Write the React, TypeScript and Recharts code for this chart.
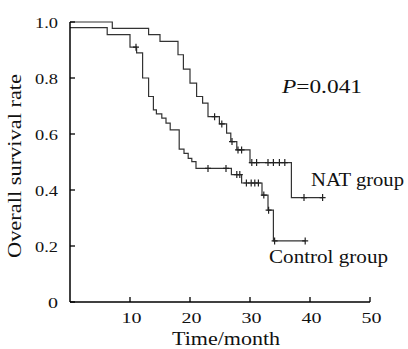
import React from "react"
import { ComposedChart, Line, Scatter, XAxis, YAxis } from "recharts"

// Kaplan-Meier steps (time in months, survival rate)
const natTimes = [0, 7.05, 13.1, 15, 18, 18.9, 20, 21.1, 22.1, 23, 24.9, 26.1, 26.8, 27.8, 30, 36.9, 42.1]
const natSurv = [1.0, 0.977, 0.955, 0.931, 0.883, 0.832, 0.782, 0.734, 0.71, 0.662, 0.636, 0.603, 0.573, 0.543, 0.498, 0.373, 0.373]
const natCensorTimes = [24.1, 25.3, 27.0, 28.0, 28.6, 30.3, 31.1, 33.0, 33.9, 34.9, 35.8, 39.0, 42.1]
const natCensorSurv = [0.662, 0.636, 0.573, 0.543, 0.543, 0.498, 0.498, 0.498, 0.498, 0.498, 0.498, 0.373, 0.373]

const ctrlTimes = [0, 6.2, 10, 11.1, 12.1, 13.1, 13.9, 14.4, 15.3, 16, 16.7, 18.2, 19, 19.7, 20.3, 21, 26.9, 28.6, 32, 33, 33.9, 39.2]
const ctrlSurv = [0.98, 0.955, 0.91, 0.89, 0.8, 0.734, 0.686, 0.672, 0.657, 0.639, 0.615, 0.546, 0.531, 0.513, 0.501, 0.477, 0.455, 0.425, 0.382, 0.328, 0.218, 0.218]
const ctrlCensorTimes = [11.0, 23.0, 26.0, 27.8, 28.3, 29.4, 30.2, 30.8, 31.4, 32.3, 33.1, 34.1, 39.2]
const ctrlCensorSurv = [0.91, 0.477, 0.477, 0.455, 0.455, 0.425, 0.425, 0.425, 0.425, 0.382, 0.328, 0.218, 0.218]

const xTicks = [10, 20, 30, 40, 50]
const yTicks = [0, 0.2, 0.4, 0.6, 0.8, 1.0]

const toPoints = (ts: number[], ss: number[]) => ts.map((t, i) => ({ t, s: ss[i] }))

const natLine = toPoints(natTimes, natSurv)
const ctrlLine = toPoints(ctrlTimes, ctrlSurv)
const natCensor = toPoints(natCensorTimes, natCensorSurv)
const ctrlCensor = toPoints(ctrlCensorTimes, ctrlCensorSurv)

// the figure's Times glyphs are stretched sideways, so text is widened with textLength
const FONT = "'Liberation Serif', 'Times New Roman', serif"

const XTick = (props: any) => {
  const { x, y, payload } = props
  return (
    <g>
      <line x1={x} y1={y} x2={x} y2={y - 5} stroke="#000" strokeWidth={1.3} />
      <text
        x={x + 1.5}
        y={y + 20.5}
        textAnchor="middle"
        fontSize={15.5}
        fontFamily={FONT}
        fill="#111"
        textLength={20}
        lengthAdjust="spacingAndGlyphs"
      >
        {payload.value}
      </text>
    </g>
  )
}

const YTick = (props: any) => {
  const { x, y, payload } = props
  const v = payload.value === 0 ? "0" : Number(payload.value).toFixed(1)
  return (
    <g>
      <line x1={x} y1={y} x2={x + 5} y2={y} stroke="#000" strokeWidth={1.3} />
      <text
        x={x - 12}
        y={y + 5.5}
        textAnchor="end"
        fontSize={15.5}
        fontFamily={FONT}
        fill="#111"
        textLength={v.length === 1 ? 10 : 23}
        lengthAdjust="spacingAndGlyphs"
      >
        {v}
      </text>
    </g>
  )
}

const CensorMark = (props: any) => {
  const { cx, cy } = props
  return (
    <path
      d={`M${cx},${cy - 3.5}V${cy + 3.5}M${cx - 3},${cy}H${cx + 3}`}
      stroke="#222"
      strokeWidth={1.2}
      fill="none"
    />
  )
}

export default function App() {
  return (
    <div style={{ position: "absolute", left: 0, top: 0, width: 408, height: 349, background: "#fff" }}>
      <ComposedChart width={408} height={349} margin={{ top: 22, right: 38, bottom: 0, left: 0 }}>
        <XAxis
          dataKey="t"
          type="number"
          domain={[0, 50]}
          ticks={xTicks}
          height={47}
          tickSize={0}
          tickMargin={0}
          tickLine={false}
          tick={<XTick />}
          axisLine={{ stroke: "#000", strokeWidth: 1.5 }}
        />
        <YAxis
          type="number"
          domain={[0, 1]}
          ticks={yTicks}
          width={70}
          tickSize={0}
          tickMargin={0}
          tickLine={false}
          tick={<YTick />}
          axisLine={{ stroke: "#000", strokeWidth: 1.5 }}
        />
        <Line data={natLine} dataKey="s" type="stepAfter" stroke="#333" strokeWidth={1.2} dot={false} isAnimationActive={false} />
        <Line data={ctrlLine} dataKey="s" type="stepAfter" stroke="#333" strokeWidth={1.2} dot={false} isAnimationActive={false} />
        <Scatter data={natCensor} dataKey="s" shape={<CensorMark />} isAnimationActive={false} />
        <Scatter data={ctrlCensor} dataKey="s" shape={<CensorMark />} isAnimationActive={false} />
      </ComposedChart>
      <svg
        width={408}
        height={349}
        style={{ position: "absolute", left: 0, top: 0, pointerEvents: "none" }}
        fontFamily={FONT}
        fill="#111"
      >
        <text x={282} y={93} fontSize={19.5} textLength={80} lengthAdjust="spacingAndGlyphs">
          <tspan fontStyle="italic">P</tspan>
          <tspan>=0.041</tspan>
        </text>
        <text x={311} y={185.5} fontSize={18} textLength={93} lengthAdjust="spacingAndGlyphs">NAT group</text>
        <text x={269} y={263} fontSize={18} textLength={119} lengthAdjust="spacingAndGlyphs">Control group</text>
        <text x={172} y={345} fontSize={18} textLength={108} lengthAdjust="spacingAndGlyphs">Time/month</text>
        <text transform="rotate(-90)" x={-258} y={21} fontSize={19} textLength={184} lengthAdjust="spacingAndGlyphs">
          Overall survival rate
        </text>
      </svg>
    </div>
  )
}
